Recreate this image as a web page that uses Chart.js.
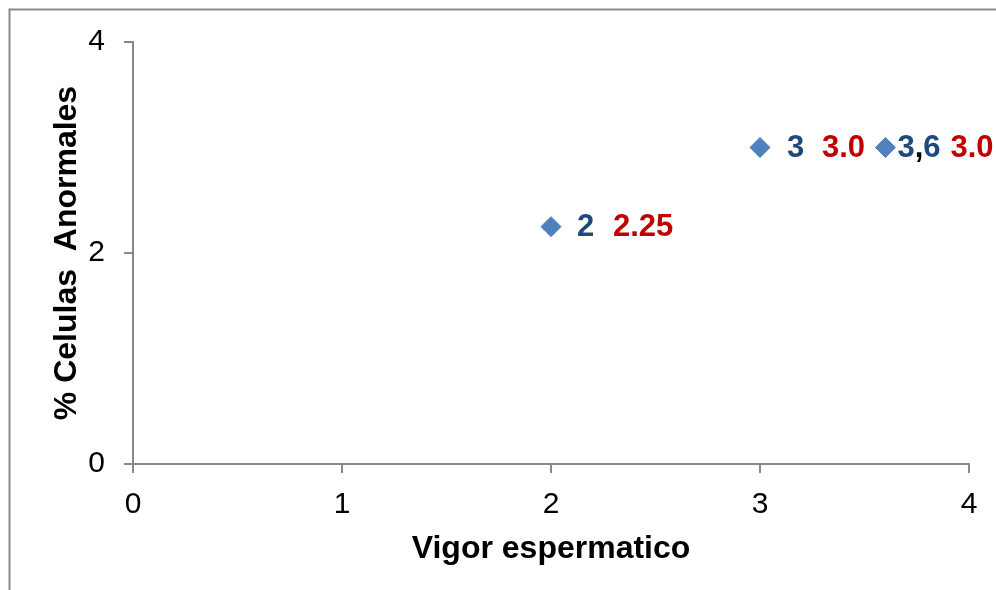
<!DOCTYPE html>
<html>
<head>
<meta charset="utf-8">
<script src="https://cdn.jsdelivr.net/npm/chart.js@4.4.0/dist/chart.umd.min.js"></script>
<style>
  html, body { margin: 0; padding: 0; background: #fff; }
  canvas { display: block; }
</style>
</head>
<body>
<canvas id="scatter" width="996" height="590"></canvas>
<script>
// data
const vigor = [2, 3, 3.6];
const anormales = [2.25, 3.0, 3.0];
const xLabelText = ['2', '3', '3,6'];
const yLabelText = ['2.25', '3.0', '3.0'];
const xTicks = [0, 1, 2, 3, 4];
const yTicks = [0, 2, 4];

const axisGray = '#898989';
const blue = '#1F497D';
const red = '#C00000';

// label offsets from the marker, in px (blue start, red start)
const blueDx = [26, 27, 12];
const redDx = [62, 62, 65];

const frame = {
  id: 'frame',
  beforeDraw(chart) {
    const ctx = chart.ctx;
    ctx.save();
    ctx.strokeStyle = axisGray;
    ctx.lineWidth = 2;
    ctx.beginPath();
    ctx.moveTo(9.5, chart.height);
    ctx.lineTo(9.5, 9.5);
    ctx.lineTo(chart.width, 9.5);
    ctx.stroke();
    ctx.restore();
  }
};

const pointLabels = {
  id: 'pointLabels',
  afterDatasetsDraw(chart) {
    const ctx = chart.ctx;
    const meta = chart.getDatasetMeta(0);
    ctx.save();
    ctx.font = 'bold 31px "Liberation Sans", Arial, sans-serif';
    ctx.textBaseline = 'middle';
    ctx.textAlign = 'left';
    meta.data.forEach((pt, i) => {
      // blue x value, comma stays black
      let x = pt.x + blueDx[i];
      for (const ch of xLabelText[i]) {
        ctx.fillStyle = ch === ',' ? '#000' : blue;
        ctx.fillText(ch, x, pt.y + 1);
        x += ctx.measureText(ch).width;
      }
      ctx.fillStyle = red;
      ctx.fillText(yLabelText[i], pt.x + redDx[i], pt.y + 1);
    });
    ctx.restore();
  }
};

new Chart(document.getElementById('scatter'), {
  type: 'scatter',
  data: {
    datasets: [{
      data: vigor.map((v, i) => ({x: v, y: anormales[i]})),
      pointStyle: 'rectRot',
      pointRadius: 10,
      pointHoverRadius: 10,
      backgroundColor: '#4F81BD',
      borderColor: '#4A7EBB',
      borderWidth: 1
    }]
  },
  options: {
    responsive: false,
    animation: false,
    layout: { padding: { left: 0, top: 42, right: 27, bottom: 0 } },
    plugins: { legend: { display: false }, tooltip: { enabled: false } },
    scales: {
      x: {
        type: 'linear',
        min: 0, max: 4,
        afterBuildTicks: s => { s.ticks = xTicks.map(v => ({value: v})); },
        afterFit: s => { s.height = 126; },
        grid: { drawOnChartArea: false, drawTicks: true, tickLength: 9, color: axisGray, lineWidth: 2 },
        border: { display: true, color: axisGray, width: 2 },
        ticks: { color: '#000', padding: 14, font: { family: '"Liberation Sans", Arial', size: 30 } },
        title: {
          display: true, text: 'Vigor espermatico', color: '#000',
          font: { family: '"Liberation Sans", Arial', size: 32, weight: 'bold' },
          padding: { top: 0, bottom: 22 }
        }
      },
      y: {
        type: 'linear',
        min: 0, max: 4,
        afterBuildTicks: s => { s.ticks = yTicks.map(v => ({value: v})); },
        afterFit: s => { s.width = 133; },
        grid: { drawOnChartArea: false, drawTicks: true, tickLength: 9, color: axisGray, lineWidth: 2 },
        border: { display: true, color: axisGray, width: 2 },
        ticks: { color: '#000', padding: 19, font: { family: '"Liberation Sans", Arial', size: 30 } },
        title: {
          display: true, text: '% Celulas  Anormales', color: '#000',
          font: { family: '"Liberation Sans", Arial', size: 32, weight: 'bold' },
          padding: { top: 48, bottom: 0 }
        }
      }
    }
  },
  plugins: [frame, pointLabels]
});
</script>
</body>
</html>
